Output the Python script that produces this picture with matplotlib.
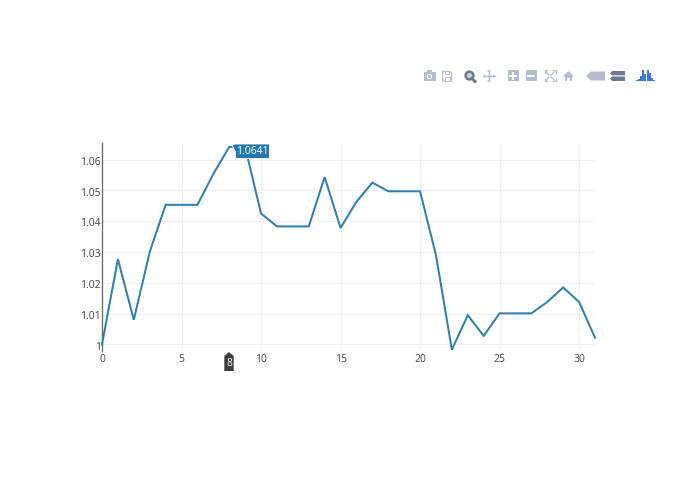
import matplotlib
matplotlib.use("Agg")
import matplotlib.pyplot as plt
from matplotlib.patches import Rectangle, Polygon, Circle
from matplotlib.transforms import ScaledTranslation

x_values = list(range(32))
y_values = [1.0, 1.0277, 1.008, 1.03, 1.0453, 1.0453, 1.0453, 1.0553, 1.0641, 1.0641,
            1.0425, 1.0383, 1.0383, 1.0383, 1.0543, 1.0378, 1.0463, 1.0525, 1.0497, 1.0497,
            1.0497, 1.029, 0.9983, 1.0095, 1.0028, 1.0101, 1.0101, 1.0101, 1.0138, 1.0185,
            1.0138, 1.0022]
x_ticks = [0, 5, 10, 15, 20, 25, 30]
y_ticks = [1.0, 1.01, 1.02, 1.03, 1.04, 1.05, 1.06]
y_tick_labels = ["1", "1.01", "1.02", "1.03", "1.04", "1.05", "1.06"]
hover_x = 8
hover_y = 1.0641
hover_text = "1.0641"

W, H = 695, 494
plt.rcParams['font.family'] = ['Open Sans', 'DejaVu Sans']
fig = plt.figure(figsize=(W / 100, H / 100), dpi=100, facecolor='white')
L, R, T, B = 102, 595, 143, 350.5
ax = fig.add_axes([L / W, 1 - B / H, (R - L) / W, (B - T) / H])
ax.plot(x_values, y_values, color='#2f7fb2', lw=1.45, clip_on=False, solid_joinstyle='miter', zorder=3)
ax.set_xlim(0, 31)
ax.set_ylim(0.99805, 1.06536)
ax.set_xticks(x_ticks)
ax.set_yticks(y_ticks)
ax.set_yticklabels(y_tick_labels)
ax.grid(True, color='#f0f0f0', lw=0.75)
ax.set_axisbelow(True)
for s in ['top', 'right', 'bottom']:
    ax.spines[s].set_visible(False)
ax.spines['left'].set_color('#666666')
ax.spines['left'].set_linewidth(0.9)
ax.tick_params(axis='both', length=0, labelsize=7.5, labelcolor='#444444')
ax.tick_params(axis='y', pad=1)
ax.tick_params(axis='x', pad=2.5)
shift = ScaledTranslation(0, -1.2 / 100, fig.dpi_scale_trans)
for lab in ax.get_yticklabels():
    lab.set_transform(lab.get_transform() + shift)

# overlay in pixel space: hover labels and the toolbar
ov = fig.add_axes([0, 0, 1, 1], facecolor='none')
ov.set_xlim(0, W)
ov.set_ylim(H, 0)
ov.axis('off')

# hover label
ov.add_patch(Polygon([(232, 145), (235, 144), (269.5, 144), (269.5, 158.5), (235.5, 158.5), (235.5, 152)],
                     closed=True, fc='#2478ad', ec='white', lw=0.6, zorder=5))
ov.text(252.5, 151.5, hover_text, color='white', fontsize=7.5, ha='center', va='center', zorder=6)
# spike label
ov.add_patch(Polygon([(224.3, 356), (229, 352), (233.7, 356), (233.7, 371), (224.3, 371)],
                     closed=True, fc='#3d3d3d', ec='none', zorder=5))
ov.text(229, 363.5, str(hover_x), color='white', fontsize=7.5, ha='center', va='center', zorder=6)

# toolbar
c = '#b3bccf'
d = '#6d7a94'
# camera
ov.add_patch(Rectangle((423.5, 72), 12, 9, fc=c, ec='none'))
ov.add_patch(Rectangle((426.5, 70.5), 5, 2, fc=c, ec='none'))
ov.add_patch(Circle((429.5, 76.5), 2.7, fc='white', ec='none'))
ov.add_patch(Circle((429.5, 76.5), 1.6, fc=c, ec='none'))
# save
ov.add_patch(Polygon([(442.5, 71.5), (450, 71.5), (451.5, 73), (451.5, 81), (442.5, 81)], fc='white', ec=c, lw=0.9))
ov.add_patch(Rectangle((444.5, 71.5), 4.5, 3, fc='white', ec=c, lw=0.7))
ov.add_patch(Rectangle((444.5, 77), 5, 4, fc='white', ec=c, lw=0.7))
# zoom
ov.add_patch(Circle((469.5, 75.5), 3.9, fc='#c9cfdc', ec=d, lw=1.8))
ov.plot([472, 475], [78.5, 81.5], color=d, lw=2.2)
# pan
ov.plot([483.5, 494.5], [76, 76], color=c, lw=1.0)
ov.plot([489, 489], [70.5, 81.5], color=c, lw=1.0)
for tri in ([(483, 76), (485, 74), (485, 78)], [(495, 76), (493, 74), (493, 78)],
            [(489, 70), (487, 72), (491, 72)], [(489, 82), (487, 80), (491, 80)]):
    ov.add_patch(Polygon(tri, fc=c, ec='none'))
# plus / minus
ov.add_patch(Rectangle((507.5, 70.5), 11, 11, fc=c, ec='none'))
ov.plot([510, 516], [76, 76], color='white', lw=1.4)
ov.plot([513, 513], [73, 79], color='white', lw=1.4)
ov.add_patch(Rectangle((525.5, 70.5), 11, 11, fc=c, ec='none'))
ov.plot([528, 534], [76, 76], color='white', lw=1.4)
# autoscale
for sx, sy in [(1, 1), (-1, 1), (1, -1), (-1, -1)]:
    ov.plot([550 + sx * 5.5, 550 + sx * 5.5, 550 + sx * 3], [76 + sy * 3, 76 + sy * 5.5, 76 + sy * 5.5],
            color=c, lw=0.9)
    ov.plot([550 + sx * 1, 550 + sx * 4], [76 + sy * 1, 76 + sy * 4], color=c, lw=0.9)
# home
ov.add_patch(Polygon([(563, 76.5), (568.5, 71), (574, 76.5), (572, 76.5), (572, 81), (570, 81), (570, 78),
                      (567, 78), (567, 81), (565, 81), (565, 76.5)], fc=c, ec='none'))
# closest
ov.add_patch(Polygon([(586, 76), (591, 71.5), (605, 71.5), (605, 80.5), (591, 80.5)], fc=c, ec='none'))
# compare
ov.add_patch(Polygon([(610, 73.5), (612, 71), (625, 71), (625, 75.3), (612, 75.3)], fc=d, ec='none'))
ov.add_patch(Polygon([(610, 78.5), (612, 76.5), (625, 76.5), (625, 81), (612, 81)], fc=d, ec='none'))
# logo bars
bar_h = [1, 2, 5, 11, 7, 11, 8, 3, 1]
for i, h in enumerate(bar_h):
    ov.add_patch(Rectangle((635.5 + i * 2.2, 81.5 - h), 2.0, h, fc='#3d76dd', ec='none'))

fig.savefig('out.png', dpi=100, facecolor='white')
